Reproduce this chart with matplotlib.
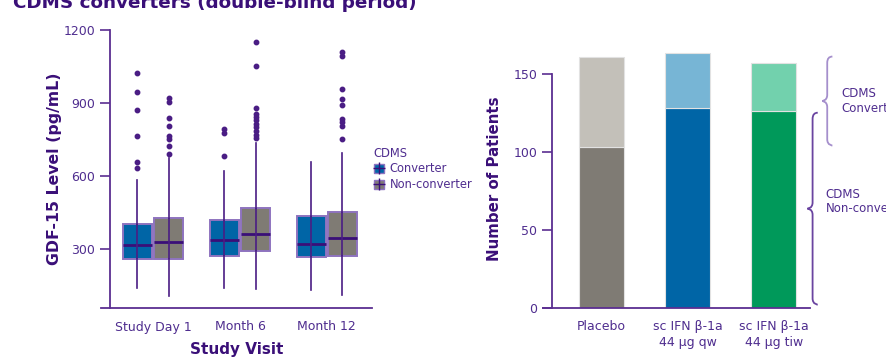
import matplotlib.pyplot as plt
import numpy as np
from matplotlib.path import Path
from matplotlib.patches import PathPatch, Patch
from matplotlib.lines import Line2D

plt.rcParams['font.family'] = ['DejaVu Sans']

# GDF-15 box plot summaries (pg/mL) per study visit
visits = ['Study Day 1', 'Month 6', 'Month 12']
groups = ['Converter', 'Non-converter']

conv_q1 = [259, 270, 266]
conv_med = [318, 337, 322]
conv_q3 = [402, 419, 436]
conv_lo = [138, 138, 132]
conv_hi = [584, 622, 656]
conv_fliers = [
    [1024, 946, 871, 763, 659, 634],
    [791, 775, 680],
    [],
]

non_q1 = [259, 290, 271]
non_med = [329, 360, 344]
non_q3 = [429, 467, 451]
non_lo = [106, 134, 110]
non_hi = [673, 734, 693]
non_fliers = [
    [919, 905, 837, 805, 764, 752, 724, 691],
    [1152, 1052, 881, 853, 844, 830, 814, 800, 786, 768, 755],
    [1108, 1094, 956, 915, 890, 834, 820, 805, 752],
]

# patient counts by treatment arm
arms = ['Placebo', 'sc IFN β-1a\n44 µg qw', 'sc IFN β-1a\n44 µg tiw']
non_converters = [103, 128, 126]
converters = [58, 35, 31]

PURPLE = '#4a1d84'
DARK = '#3a0f78'
LAV = '#8e73bf'
TICK_TXT = '#4f2d8f'
BLUE = '#0065a6'
GREY = '#7f7b74'

fig = plt.figure(figsize=(8.87, 3.58), dpi=100)

fig.text(0.015, 1 - 8 / 358, 'CDMS converters (double-blind period)',
         fontsize=13.2, fontweight='bold', color=DARK, va='baseline')


def stats(q1, med, q3, lo, hi, fl):
    return [dict(q1=a, med=b, q3=c, whislo=d, whishi=e, fliers=f)
            for a, b, c, d, e, f in zip(q1, med, q3, lo, hi, fl)]


def style_axes(ax):
    for s in ['top', 'right']:
        ax.spines[s].set_visible(False)
    for s in ['left', 'bottom']:
        ax.spines[s].set_color('#5b2e91')
        ax.spines[s].set_linewidth(1.3)
    ax.tick_params(axis='y', colors='#5b2e91', labelcolor=TICK_TXT,
                   labelsize=9, length=7, width=1.2)
    ax.tick_params(axis='x', length=0, labelcolor=TICK_TXT, labelsize=9, pad=9)


# ---- left: box plots ----
ax1 = fig.add_axes([101 / 887, 50 / 358, 271 / 887, 278 / 358])
pos = np.arange(len(visits))
off, w = 0.18, 0.33
box_sets = [(conv_q1, conv_med, conv_q3, conv_lo, conv_hi, conv_fliers, BLUE, pos - off),
            (non_q1, non_med, non_q3, non_lo, non_hi, non_fliers, GREY, pos + off)]
for q1, med, q3, lo, hi, fl, face, x in box_sets:
    ax1.bxp(stats(q1, med, q3, lo, hi, fl), positions=x, widths=w,
            patch_artist=True, showcaps=False,
            boxprops=dict(facecolor=face, edgecolor=LAV, linewidth=1.4),
            medianprops=dict(color=DARK, linewidth=2),
            whiskerprops=dict(color=PURPLE, linewidth=1.2),
            flierprops=dict(marker='o', markersize=3.2, markerfacecolor=PURPLE,
                            markeredgecolor=PURPLE))
    # whisker line runs through the box
    ax1.vlines(x, q1, q3, color=PURPLE, linewidth=1.2, zorder=3)
ax1.set_xlim(-0.6, 2.52)
ax1.set_ylim(57, 1200)
ax1.spines['left'].set_position(('data', -0.5))
ax1.set_yticks([300, 600, 900, 1200])
ax1.set_xticks(pos)
ax1.set_xticklabels(visits)
style_axes(ax1)
ax1.set_ylabel('GDF-15 Level (pg/mL)', fontsize=11.3, fontweight='bold',
               color=DARK, labelpad=1)
ax1.set_xlabel('Study Visit', fontsize=11, fontweight='bold', color=DARK,
               labelpad=6)

handles = [(Patch(facecolor=BLUE, edgecolor=LAV),
            Line2D([], [], marker='+', markersize=9, color=DARK, linestyle='none')),
           (Patch(facecolor=GREY, edgecolor=LAV),
            Line2D([], [], marker='+', markersize=9, color=DARK, linestyle='none'))]
leg = fig.legend(handles, groups, title='CDMS', loc='upper left',
                 bbox_to_anchor=(369 / 887, 1 - 142 / 358), frameon=False,
                 fontsize=8.3, title_fontsize=8.3, handlelength=0.9,
                 handleheight=0.9, handletextpad=0.5, labelspacing=0.25,
                 borderaxespad=0, alignment='left')
for t in leg.get_texts():
    t.set_color(TICK_TXT)
leg.get_title().set_color(TICK_TXT)

# ---- right: stacked bars ----
ax2 = fig.add_axes([543 / 887, 50.3 / 358, 267 / 887, 257.4 / 358])
xb = np.arange(len(arms))
dark_cols = ['#7f7b74', '#0065a6', '#00995a']
light_cols = ['#c3c0b9', '#77b5d5', '#72d1ad']
ax2.bar(xb, non_converters, width=0.52, color=dark_cols,
        edgecolor='#e2e2e2', linewidth=0.8)
ax2.bar(xb, converters, bottom=non_converters, width=0.52, color=light_cols,
        edgecolor='#e2e2e2', linewidth=0.8)
ax2.set_xlim(-0.68, 2.42)
ax2.set_ylim(0, 165)
ax2.spines['left'].set_position(('data', -0.575))
ax2.spines['left'].set_bounds(0, 150)
ax2.set_yticks([0, 50, 100, 150])
ax2.set_xticks(xb)
ax2.set_xticklabels(arms, linespacing=1.25)
style_axes(ax2)
ax2.tick_params(axis='x', pad=9)
ax2.set_ylabel('Number of Patients', fontsize=10.8, fontweight='bold',
               color=DARK, labelpad=8)


def brace(ax, x, y0, y1, dx, dy, color):
    ym = (y0 + y1) / 2
    verts = [(x + dx, y1), (x, y1), (x, y1 - dy),
             (x, ym + dy),
             (x, ym), (x - dx, ym), (x - dx, ym),
             (x - dx, ym), (x, ym), (x, ym - dy),
             (x, y0 + dy),
             (x, y0), (x + dx, y0), (x + dx, y0)]
    codes = [Path.MOVETO, Path.CURVE3, Path.CURVE3,
             Path.LINETO,
             Path.CURVE4, Path.CURVE4, Path.CURVE4,
             Path.CURVE4, Path.CURVE4, Path.CURVE4,
             Path.LINETO,
             Path.CURVE4, Path.CURVE4, Path.CURVE4]
    ax.add_patch(PathPatch(Path(verts, codes), facecolor='none',
                           edgecolor=color, linewidth=1.3, clip_on=False))


brace(ax2, 2.62, 104, 161, 0.06, 4, '#a58fcc')
brace(ax2, 2.45, 2, 125, 0.06, 4, '#6a44a0')
ax2.text(2.78, 132.5, 'CDMS\nConverter', fontsize=8.5, color=TICK_TXT,
         va='center', ha='left', clip_on=False, linespacing=1.15)
ax2.text(2.6, 68, 'CDMS\nNon-converter', fontsize=8.5, color=TICK_TXT,
         va='center', ha='left', clip_on=False, linespacing=1.15)

fig.savefig('out.png', dpi=100)
